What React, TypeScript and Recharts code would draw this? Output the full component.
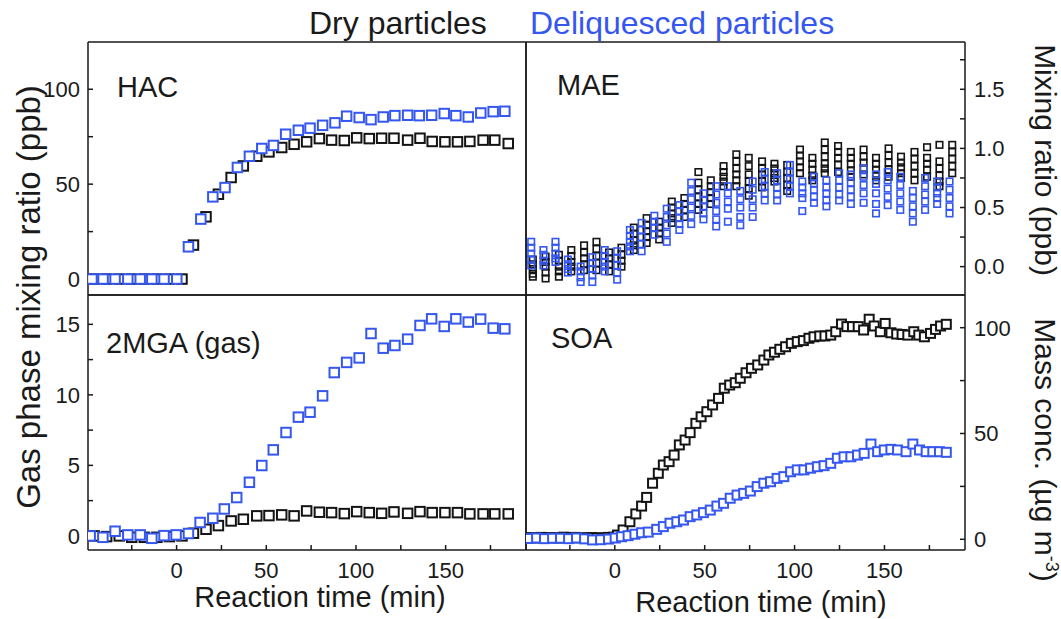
import React from 'react';
import { ScatterChart, Scatter, XAxis, YAxis } from 'recharts';

const FONT = '"Liberation Sans", Arial, sans-serif';
const INK = '#1a1a1a';
const BLACK = '#141414';
const BLUE = '#3557f0';

// ---------- x axis (reaction time, min) ----------
const X_DOMAIN: [number, number] = [-49.4, 194.8];
const X_TICKS_MAJOR = [0, 50, 100, 150];
const X_TICKS_ALL = [-25, 0, 25, 50, 75, 100, 125, 150, 175];

// ---------- HAC (ppb) ----------
const HAC_DRY_T = [-46, -39, -32, -25, -18, -11, -4, 3, 9.4, 16.4, 23.3, 30.4, 37.2, 44.7, 51.5, 58.6, 65.5, 72.5, 79.6, 86.4, 93.5, 100.4, 107.4, 114.3, 121.2, 128.8, 135.7, 142.5, 149.6, 156.6, 163.5, 170.9, 177.4, 184.9];
const HAC_DRY = [0, 0, 0, 0, 0, 0, 0, 0, 17.9, 32.8, 44.7, 53.5, 59.6, 64.7, 67, 69.3, 71, 72.3, 74, 73.2, 73, 74.4, 74, 74.2, 74.2, 73.2, 74.2, 72.5, 72.3, 72.3, 72.5, 73.2, 73.2, 71.4];
const HAC_WET_T = [-47.2, -41, -34.3, -27.2, -20.3, -13.8, -7, 0.1, 6.6, 13.5, 20.2, 27, 33.9, 40.6, 47.5, 54, 60.8, 67.9, 74.4, 81.4, 88.3, 94.8, 101.8, 108.4, 115.2, 121.7, 128.8, 135.3, 142.2, 149.2, 155.7, 162.6, 169.6, 176.5, 183];
const HAC_WET = [0, 0, 0, 0, 0, 0, 0, 0, 17, 31.6, 43.3, 48.2, 58.8, 64.7, 68.8, 70.4, 76.3, 78.4, 79.5, 81, 82.3, 85.8, 85.1, 84, 85.4, 86.1, 86.3, 86.1, 86.3, 87.2, 86.1, 85.4, 87.5, 88.2, 88.4];
const HAC_DOMAIN: [number, number] = [-8.4, 124.9];
const HAC_TICKS = [0, 25, 50, 75, 100];
const HAC_LABELS = [0, 50, 100];

// ---------- MAE (ppb), several readings per time ----------
const MAE_DRY_T = [-45.6, -38.5, -31.1, -24.2, -17.1, -10.2, -3.2, 3.7, 10.6, 17.7, 24.7, 31.7, 38.7, 46.5, 53.4, 60.5, 67.6, 74.5, 81.9, 88.8, 95.9, 103, 109.9, 116.8, 124.2, 131.3, 138.4, 145.3, 152.3, 159.2, 166.7, 173.7, 180.6, 187.7];
const MAE_DRY = [
  [0.06, 0.02, -0.02, -0.06, -0.085], [0.085, 0.04, 0.0, -0.05, -0.1], [0.1, 0.05, 0.0, -0.04, -0.085],
  [0.14, 0.09, 0.04, 0.0, -0.04], [0.18, 0.12, 0.07, 0.02, -0.03], [0.21, 0.15, 0.09, 0.03, -0.03],
  [0.12, 0.07, 0.02, -0.04], [0.16, 0.1, 0.05, 0.0], [0.33, 0.28, 0.22, 0.18, 0.14],
  [0.41, 0.35, 0.3, 0.25, 0.2], [0.38, 0.33, 0.28, 0.23], [0.55, 0.5, 0.45, 0.41, 0.37],
  [0.58, 0.53, 0.48, 0.42], [0.8, 0.71, 0.65, 0.59, 0.53, 0.48], [0.73, 0.68, 0.63, 0.58, 0.53],
  [0.85, 0.8, 0.76, 0.72, 0.68], [0.95, 0.89, 0.83, 0.78, 0.73, 0.68], [0.92, 0.85, 0.78, 0.72, 0.66, 0.6],
  [0.89, 0.83, 0.78, 0.72, 0.67], [0.87, 0.83, 0.79, 0.75, 0.72], [0.86, 0.8, 0.75, 0.69, 0.64],
  [0.99, 0.94, 0.89, 0.84, 0.79], [0.92, 0.87, 0.82, 0.77, 0.73], [1.05, 0.99, 0.93, 0.87, 0.83, 0.79],
  [1.02, 0.97, 0.92, 0.86, 0.8], [0.97, 0.92, 0.87, 0.81, 0.76], [0.99, 0.93, 0.88, 0.83, 0.78],
  [0.92, 0.87, 0.82, 0.77, 0.73], [1.0, 0.94, 0.88, 0.82, 0.76], [0.93, 0.88, 0.84, 0.79, 0.75],
  [0.97, 0.91, 0.85, 0.79, 0.73], [1.01, 0.92, 0.87, 0.82, 0.76], [1.03, 0.89, 0.83, 0.77, 0.72, 0.68],
  [1.03, 0.97, 0.91, 0.85, 0.79],
];
const MAE_WET_T = [-46.5, -39.7, -33, -26.1, -19, -12.5, -5.6, 1.3, 8.4, 14.9, 22, 28.9, 35.9, 42.5, 49.3, 56.4, 62.9, 69.8, 76.7, 83.4, 90.3, 97.4, 104.3, 110.8, 117.7, 124.8, 131.3, 138.4, 145.3, 151.8, 158.8, 165.8, 172.6, 179.3, 186.2];
const MAE_WET = [
  [0.21, 0.16, 0.11, 0.06, 0.01], [0.14, 0.1, 0.05, 0.01], [0.21, 0.16, 0.11, 0.07, 0.04],
  [0.06, 0.02, -0.02, -0.05], [0.0, -0.04, -0.09, -0.13], [0.08, 0.03, -0.02, -0.07, -0.13],
  [0.14, 0.09, 0.04, 0.0, -0.04], [0.13, 0.07, 0.01, -0.05, -0.11], [0.31, 0.26, 0.21, 0.17, 0.13],
  [0.37, 0.31, 0.25, 0.19, 0.13], [0.43, 0.38, 0.33, 0.27], [0.49, 0.42, 0.35, 0.28, 0.21],
  [0.52, 0.47, 0.41, 0.36, 0.31], [0.71, 0.64, 0.57, 0.5, 0.43, 0.36], [0.62, 0.56, 0.51, 0.45, 0.4],
  [0.68, 0.61, 0.54, 0.47, 0.4, 0.34], [0.68, 0.62, 0.55, 0.49, 0.38], [0.64, 0.57, 0.5, 0.42, 0.35],
  [0.72, 0.65, 0.57, 0.5, 0.42], [0.8, 0.74, 0.68, 0.62, 0.56], [0.79, 0.73, 0.67, 0.61, 0.56],
  [0.86, 0.8, 0.74, 0.68, 0.62], [0.72, 0.67, 0.62, 0.58, 0.47], [0.76, 0.7, 0.65, 0.59, 0.54],
  [0.73, 0.67, 0.62, 0.56, 0.51], [0.79, 0.73, 0.67, 0.61, 0.56], [0.78, 0.71, 0.65, 0.59, 0.53],
  [0.83, 0.76, 0.69, 0.62, 0.54], [0.78, 0.7, 0.62, 0.53, 0.45], [0.8, 0.73, 0.66, 0.59, 0.52],
  [0.76, 0.69, 0.62, 0.55, 0.48], [0.64, 0.58, 0.51, 0.45, 0.38], [0.75, 0.68, 0.61, 0.55, 0.48],
  [0.72, 0.67, 0.62, 0.58, 0.53], [0.72, 0.65, 0.58, 0.51, 0.45],
];
const MAE_DOMAIN: [number, number] = [-0.24, 1.9];
const MAE_TICKS = [0, 0.25, 0.5, 0.75, 1, 1.25, 1.5, 1.75];
const MAE_LABELS = [0, 0.5, 1, 1.5];

// ---------- 2MGA gas (ppb) ----------
const MGA_DRY_T = [-46, -39, -32, -25, -18, -11, -4, 3, 9.4, 16.4, 23.3, 30.4, 37.2, 44.7, 51.5, 58.6, 65.5, 72.5, 79.6, 86.4, 93.5, 100.4, 107.4, 114.3, 121.2, 128.8, 135.7, 142.5, 149.6, 156.6, 163.5, 170.9, 177.4, 184.9];
const MGA_DRY = [0, -0.05, 0, -0.1, -0.1, -0.1, -0.05, 0, 0.19, 0.47, 0.73, 1.06, 1.18, 1.42, 1.44, 1.49, 1.42, 1.77, 1.68, 1.65, 1.58, 1.72, 1.65, 1.6, 1.7, 1.6, 1.72, 1.65, 1.65, 1.65, 1.56, 1.56, 1.56, 1.56];
const MGA_WET_T = [-48.2, -41.1, -34.3, -27.2, -20.3, -13.8, -7, -0.3, 6.6, 13.1, 20.2, 26.6, 33.5, 40.6, 47.5, 53.9, 61, 67.9, 74.4, 81.4, 87.9, 94.8, 101.8, 108.4, 115.2, 121.7, 128.8, 135.7, 142.2, 149.2, 155.7, 162.6, 169.5, 176.5, 183];
const MGA_WET = [0, -0.1, 0.33, 0.07, 0.07, -0.17, 0.02, 0.07, 0.17, 0.95, 1.25, 1.91, 2.72, 3.8, 4.99, 6.1, 7.33, 8.42, 8.77, 9.93, 11.58, 12.3, 12.62, 14.35, 13.31, 13.5, 13.95, 14.92, 15.39, 14.85, 15.39, 15.16, 15.37, 14.73, 14.68];
const MGA_DOMAIN: [number, number] = [-1, 17.08];
const MGA_TICKS = [0, 2.5, 5, 7.5, 10, 12.5, 15];
const MGA_LABELS = [0, 5, 10, 15];

// ---------- SOA (ug m-3) ----------
const SOA_DRY_T = [-47.1, -44, -40.9, -37.8, -34.7, -31.6, -28.5, -25.4, -22.3, -19.2, -16.1, -13, -9.9, -6.8, -3.7, -0.6, 1.5, 4.6, 8.4, 11.7, 14.9, 17.7, 21, 24.2, 27, 30.2, 33, 35.9, 39.1, 41.9, 45.1, 48, 51.2, 54.4, 57.7, 60.9, 63.9, 67, 69.8, 73, 76, 79.5, 82.9, 85.7, 88.8, 91.8, 95, 98.2, 101.5, 104.9, 108, 110.8, 114, 116.9, 120.1, 122.9, 126.1, 129.1, 132.2, 135.4, 138.4, 141.5, 144.3, 147.7, 150.4, 153.6, 156.8, 159.8, 163, 166.3, 169.1, 172.2, 175.6, 178.4, 181.2, 184.4];
const SOA_DRY = [0.8, 0.6, 0.9, 0.7, 0.8, 0.6, 1.0, 0.7, 0.9, 0.7, 0.6, 0.8, 0.7, 0.6, 0.9, 1.0, 2, 4.4, 8.3, 12, 15.7, 19.8, 26.5, 31.2, 35.1, 36.7, 39.8, 44.6, 46.9, 50.4, 54.8, 57.9, 60.3, 63.5, 66.6, 71.4, 72.9, 74, 76.1, 78.7, 80.8, 82.4, 84.7, 87.1, 88.4, 89.8, 91, 92.6, 93.4, 93.9, 95, 95.7, 96.1, 96.1, 96.5, 98.1, 101.7, 100.5, 100.5, 100.5, 98.9, 104, 100.8, 98.1, 102, 97.6, 97, 96.8, 96.5, 98.1, 96.5, 95.7, 97.3, 99.2, 100.8, 101.6];
const SOA_WET_T = [-48, -43.5, -39.1, -34.6, -30.2, -25.7, -21.3, -16.8, -12.4, -7.9, -3.5, 0.2, 3.7, 7.4, 11.2, 14.9, 18.6, 23.3, 27, 30.7, 34.5, 38.2, 41.9, 45.6, 49.3, 53.1, 56.8, 60.5, 64.2, 68, 71.7, 75.4, 79.2, 82.9, 86.6, 90.3, 94, 97.8, 101.5, 105.2, 108.9, 112.7, 116.4, 120.1, 123.8, 127.5, 131.3, 135, 138.7, 142.5, 146.2, 149.9, 153.6, 157.3, 162, 165.8, 169.5, 173.2, 176.9, 180.6, 184.4];
const SOA_WET = [0.4, 0.6, 0.3, 0.5, 0.5, 0.3, 0.6, 0.2, -0.3, -0.2, 0.1, 0.6, 1.2, 1.7, 2.4, 3.1, 3.4, 4.7, 6, 7.6, 8.3, 9.1, 10.7, 11.5, 12.6, 13.8, 15.7, 17, 19.4, 20.9, 21.7, 22.8, 24.9, 26.5, 27.2, 28.8, 29.6, 31.9, 32.8, 32.8, 33.6, 34.3, 34.8, 35.9, 38.3, 39, 39, 39.8, 40.6, 45, 41.4, 42.2, 42.5, 42.2, 41.4, 45, 42.2, 41.4, 41.4, 41.4, 41.1];
const SOA_DOMAIN: [number, number] = [-5.06, 115.45];
const SOA_TICKS = [0, 25, 50, 75, 100];
const SOA_LABELS = [0, 50, 100];

type Pt = { x: number; y: number };
const pts = (t: number[], v: number[]): Pt[] => t.map((x, i) => ({ x, y: v[i] }));
const stacks = (t: number[], v: number[][]): Pt[] => t.flatMap((x, i) => v[i].map((y) => ({ x, y })));

const square = (color: string, size: number, sw: number, fill: string) => (p: any) => {
  if (p == null || p.cx == null || p.cy == null) return <g />;
  return (
    <rect x={p.cx - size / 2} y={p.cy - size / 2} width={size} height={size} fill={fill} stroke={color} strokeWidth={sw} />
  );
};

const AXIS_LINE = { stroke: INK, strokeWidth: 1.5 };
const TICK_LINE = { stroke: INK, strokeWidth: 1.5 };
const TICK_TEXT = { fontSize: 22, fill: INK, fontFamily: FONT };

type Series = { data: Pt[]; color: string; size: number; sw: number; fill: string; name: string };
type PanelProps = {
  px: number; py: number; pw: number; ph: number;
  leftDomain: [number, number]; leftTicks: number[]; leftLabels?: number[]; leftFmt?: (v: number) => string;
  rightDomain: [number, number]; rightTicks: number[]; rightLabels?: number[]; rightFmt?: (v: number) => string;
  dataAxis: 'l' | 'r';
  bottomLabels: boolean;
  series: Series[];
};

const W = 1061;
const H = 619;
const AW = 50; // y axis widths
const TH = 10; // top axis height
const BH = 40; // bottom axis height

function Panel(p: PanelProps) {
  const margin = { left: p.px - AW, top: p.py - TH, right: W - (p.px + p.pw) - AW, bottom: H - (p.py + p.ph) - BH };
  const fmt = (labels: number[] | undefined, f?: (v: number) => string) => (v: number) =>
    labels && labels.some((l) => Math.abs(l - v) < 1e-9) ? (f ? f(v) : String(v)) : '';
  return (
    <div style={{ position: 'absolute', left: 0, top: 0 }}>
      <ScatterChart width={W} height={H} margin={margin}>
        <XAxis
          xAxisId="b" type="number" dataKey="x" orientation="bottom" domain={X_DOMAIN} allowDataOverflow
          ticks={p.bottomLabels ? X_TICKS_ALL : X_TICKS_MAJOR} interval={0} height={BH}
          tickSize={-5} tickMargin={17} axisLine={AXIS_LINE} tickLine={TICK_LINE}
          tick={p.bottomLabels ? TICK_TEXT : false} tickFormatter={fmt(X_TICKS_MAJOR)}
        />
        <XAxis
          xAxisId="t" type="number" orientation="top" domain={X_DOMAIN} allowDataOverflow
          ticks={X_TICKS_MAJOR} interval={0} height={TH} tickSize={-5} axisLine={AXIS_LINE} tickLine={TICK_LINE} tick={false}
        />
        <YAxis
          yAxisId="l" type="number" dataKey="y" orientation="left" domain={p.leftDomain} allowDataOverflow
          ticks={p.leftTicks} interval={0} width={AW} tickSize={-5} tickMargin={13} axisLine={AXIS_LINE} tickLine={TICK_LINE}
          tick={p.leftLabels ? TICK_TEXT : false} tickFormatter={fmt(p.leftLabels, p.leftFmt)}
        />
        <YAxis
          yAxisId="r" type="number" dataKey="y" orientation="right" domain={p.rightDomain} allowDataOverflow
          ticks={p.rightTicks} interval={0} width={AW} tickSize={-5} tickMargin={14} axisLine={AXIS_LINE} tickLine={TICK_LINE}
          tick={p.rightLabels ? TICK_TEXT : false} tickFormatter={fmt(p.rightLabels, p.rightFmt)}
        />
        {p.series.map((s) => (
          <Scatter
            key={s.name} name={s.name} data={s.data} xAxisId="b" yAxisId={p.dataAxis}
            isAnimationActive={false} shape={square(s.color, s.size, s.sw, s.fill)}
          />
        ))}
      </ScatterChart>
    </div>
  );
}

export default function App() {
  const L = 88, M = 526, R = 965, T = 42, MID = 295, B = 550;
  return (
    <div style={{ position: 'absolute', left: 0, top: 0, width: W, height: H, background: '#fff', overflow: 'hidden' }}>
      <Panel
        px={L} py={T} pw={M - L} ph={MID - T}
        leftDomain={HAC_DOMAIN} leftTicks={HAC_TICKS} leftLabels={HAC_LABELS}
        rightDomain={HAC_DOMAIN} rightTicks={HAC_TICKS}
        dataAxis="l" bottomLabels={false}
        series={[
          { name: 'HAC dry', data: pts(HAC_DRY_T, HAC_DRY), color: BLACK, size: 9.5, sw: 2, fill: '#fff' },
          { name: 'HAC wet', data: pts(HAC_WET_T, HAC_WET), color: BLUE, size: 9.5, sw: 2, fill: '#fff' },
        ]}
      />
      <Panel
        px={M} py={T} pw={R - M} ph={MID - T}
        leftDomain={HAC_DOMAIN} leftTicks={HAC_TICKS}
        rightDomain={MAE_DOMAIN} rightTicks={MAE_TICKS} rightLabels={MAE_LABELS} rightFmt={(v) => v.toFixed(1)}
        dataAxis="r" bottomLabels={false}
        series={[
          { name: 'MAE dry', data: stacks(MAE_DRY_T, MAE_DRY), color: BLACK, size: 6.5, sw: 1.6, fill: 'none' },
          { name: 'MAE wet', data: stacks(MAE_WET_T, MAE_WET), color: BLUE, size: 6.5, sw: 1.6, fill: 'none' },
        ]}
      />
      <Panel
        px={L} py={MID} pw={M - L} ph={B - MID}
        leftDomain={MGA_DOMAIN} leftTicks={MGA_TICKS} leftLabels={MGA_LABELS}
        rightDomain={MGA_DOMAIN} rightTicks={MGA_TICKS}
        dataAxis="l" bottomLabels={true}
        series={[
          { name: '2MGA dry', data: pts(MGA_DRY_T, MGA_DRY), color: BLACK, size: 9.5, sw: 2, fill: '#fff' },
          { name: '2MGA wet', data: pts(MGA_WET_T, MGA_WET), color: BLUE, size: 9.5, sw: 2, fill: '#fff' },
        ]}
      />
      <Panel
        px={M} py={MID} pw={R - M} ph={B - MID}
        leftDomain={MGA_DOMAIN} leftTicks={MGA_TICKS}
        rightDomain={SOA_DOMAIN} rightTicks={SOA_TICKS} rightLabels={SOA_LABELS}
        dataAxis="r" bottomLabels={true}
        series={[
          { name: 'SOA dry', data: pts(SOA_DRY_T, SOA_DRY), color: BLACK, size: 9, sw: 2, fill: '#fff' },
          { name: 'SOA wet', data: pts(SOA_WET_T, SOA_WET), color: BLUE, size: 9, sw: 2, fill: '#fff' },
        ]}
      />
      <svg width={W} height={H} style={{ position: 'absolute', left: 0, top: 0, pointerEvents: 'none' }} fontFamily={FONT}>
        <text x={309} y={34} fontSize={32} fill={INK}>Dry particles</text>
        <text x={530} y={34} fontSize={32} fill={BLUE}>Deliquesced particles</text>
        <text x={117} y={97} fontSize={29} fill={INK}>HAC</text>
        <text x={557} y={95} fontSize={29} fill={INK}>MAE</text>
        <text x={106} y={353} fontSize={29} fill={INK}>2MGA (gas)</text>
        <text x={551} y={348} fontSize={29} fill={INK}>SOA</text>
        <text x={320} y={607} fontSize={29} fill={INK} textAnchor="middle">Reaction time (min)</text>
        <text x={761} y={612} fontSize={29} fill={INK} textAnchor="middle">Reaction time (min)</text>
        <text transform="translate(40,297) rotate(-90)" fontSize={33} fill={INK} textAnchor="middle">Gas phase mixing ratio (ppb)</text>
        <text transform="translate(1035,160) rotate(90)" fontSize={30} fill={INK} textAnchor="middle">Mixing ratio (ppb)</text>
        <text transform="translate(1035,450) rotate(90)" fontSize={30} fill={INK} textAnchor="middle">
          Mass conc. (µg m<tspan dy={-11} fontSize={18}>-3</tspan><tspan dy={11}>)</tspan>
        </text>
      </svg>
    </div>
  );
}
